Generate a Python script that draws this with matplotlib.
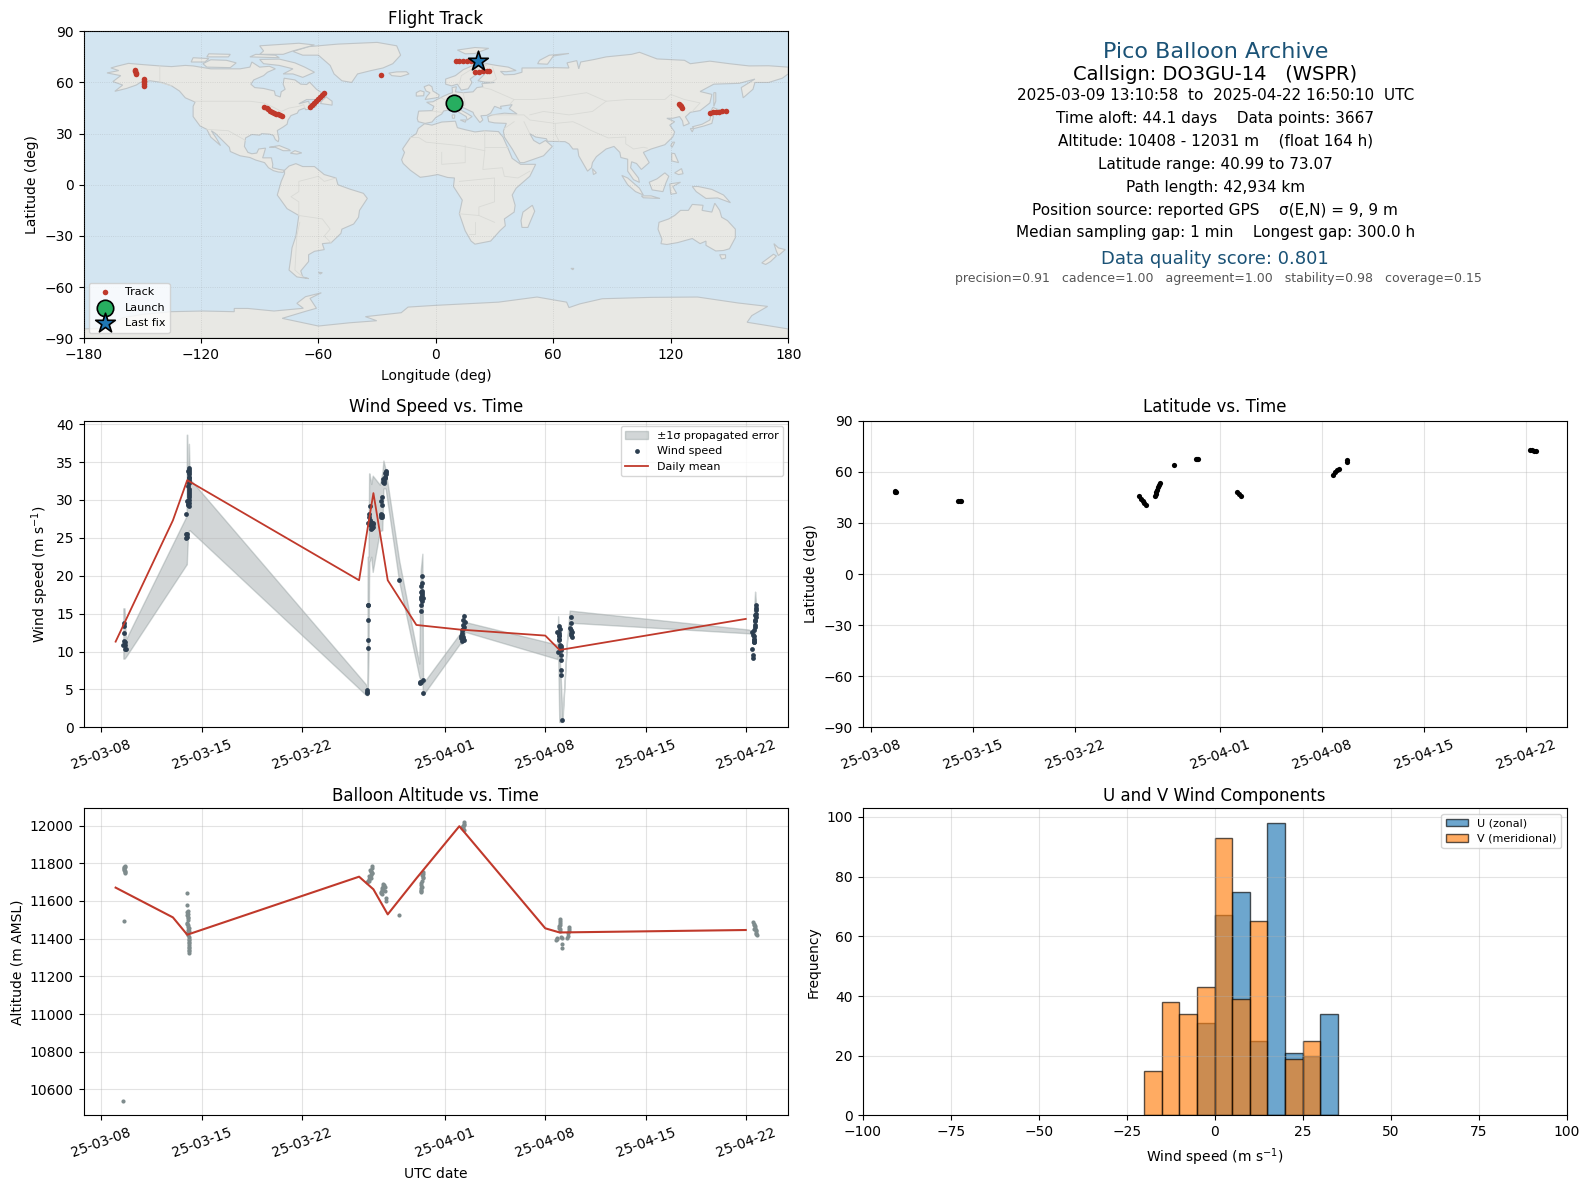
import numpy as np
import matplotlib
matplotlib.use("Agg")
import matplotlib.pyplot as plt
import matplotlib.dates as mdates
from matplotlib.patches import Polygon
from datetime import datetime

W, H = 1589, 1189

# land outlines (lon, lat), rough hand traced
north_america = [(-168,65.6),(-164,66.5),(-162,67),(-166,68.5),(-163,69.5),(-157,71.2),(-150,70.5),(-141,69.7),(-135,69.3),(-128,70),(-124,69.7),(-115,68),(-108,68),(-100,68),(-95,69),(-94,72),(-90,69),(-85,69.5),(-82,68),(-86,66),(-88,64),(-93,61.5),(-94.5,59),(-92.5,57),(-88,56.5),(-82.5,55),(-82,52.5),(-79.5,51.5),(-79,54.5),(-77,56),(-78,59),(-77.5,62.5),(-72,61.5),(-69,59),(-66,58.8),(-64.5,60.2),(-61,56),(-57,53),(-56,51.5),(-60,50),(-66,50),(-70,47.5),(-65,49),(-64.5,47),(-61,46),(-64,44.5),(-66.5,44),(-67,45),(-70,43.7),(-70.8,42),(-74,40.6),(-75.5,38),(-76,35.5),(-78,33.9),(-81,31.8),(-80.2,27),(-80.5,25.2),(-82,26.5),(-83,29),(-85,29.7),(-89,30),(-90,29.1),(-94,29.5),(-97.2,27.5),(-97.8,22.5),(-96,19),(-94,18.2),(-91.5,18.6),(-90.5,21),(-87,21.5),(-88,17.5),(-88.5,15.8),(-84,15.8),(-83.3,12),(-83.5,10),(-80,9),(-77.3,8.5),(-78,7.3),(-80.5,7.5),(-83,8.3),(-85.5,10),(-87.5,13),(-92,14.5),(-95,16),(-100,17),(-105,19.5),(-105.5,22),(-109,26),(-112.5,30),(-114.7,31.7),(-112,27),(-110,23),(-112,25),(-115,28),(-117,32.5),(-120.5,34.5),(-124,40),(-124,46),(-123,48.5),(-128,51),(-131,55),(-135,58),(-140,60),(-146,61),(-151,60),(-153,58.5),(-158,56.5),(-164,54.8),(-160,58.5),(-165,60.5),(-161,64)]
south_america = [(-77.3,8.5),(-75,11),(-71.5,12.4),(-68,10.7),(-62,10.7),(-57,6),(-51,4),(-50,0),(-44,-2.5),(-37,-5),(-35,-8),(-39,-15),(-39.5,-19),(-42,-23),(-48,-26),(-48.5,-28.5),(-53.5,-34),(-58,-34.5),(-57,-38),(-62,-39),(-65,-41),(-65,-45),(-69,-50.5),(-68,-54),(-65,-55),(-71,-54),(-75,-50),(-74,-42),(-73.5,-37),(-71.5,-30),(-70,-18),(-76,-14),(-81,-6),(-80,-2),(-79,2),(-77.3,6.5)]
eurasia = [(-9,37),(-9.5,38.8),(-8.8,43.2),(-1.8,43.5),(-1,46),(-4.7,48.4),(-1.5,48.7),(1.5,50.5),(4,52),(7,53.5),(8.5,54),(8.3,57),(10.5,57.5),(10,54.5),(14,54),(19,54.5),(21,57),(24,57.5),(23.5,59.3),(30,60),(25,60.2),(21.5,61),(25,65),(22,65.8),(17.5,62),(18.5,60),(16.5,56.3),(13,55.5),(11,59),(8,58),(5,59),(5,62),(10,64),(14,67.5),(19,70),(26,71),(31,70),(37,69),(41,67),(36,66.3),(33,66.5),(35,64.5),(40,64.7),(44,66),(44,68.5),(54,68.5),(60,68.7),(68,68.5),(67,71.5),(72,72.8),(73,68),(74,72),(81,73.5),(87,75),(100,76.5),(104,77.7),(113,73.8),(127,73),(130,71),(140,72.5),(150,71),(160,69.7),(170,69.8),(180,69),(180,65),(177,62.5),(170,60),(163,60),(162,56),(157,51),(156,57),(163,62),(155,59.5),(142,59),(135,54.7),(141,53),(140,48),(135,43.5),(130,42.5),(127.5,39.8),(129.5,36),(126.5,34.5),(126,37.5),(124.5,40),(121,39),(118,39),(122,37),(119.5,35),(122,31),(121,28),(117,23.5),(110,21),(106,19),(109,13),(105,9),(102.5,12.5),(100,13.5),(99.5,10),(103.5,4),(104,1.4),(101,3),(98,8),(98,15),(94.5,16),(94,19),(91,22.5),(87,21),(82,16.5),(80,13),(79.5,10),(77.5,8),(73,17),(72.5,21),(70,21),(68,24),(66,25.3),(57,25.5),(56.5,27),(51,28),(48,30),(50,26),(51.5,25),(53,24),(56,26),(59.5,22.5),(55,17),(45,13),(43,13),(39,21),(35,28),(34.5,31.5),(36,36),(30,36.3),(27,37),(26.5,40),(29,41),(35,42),(41.5,41.5),(37.5,44.7),(39,47),(33,46),(33.5,44.5),(30,46),(28,42),(26,40.7),(23,40.5),(24,38),(22.5,36.5),(19.5,41),(19,42.5),(13.5,45.5),(12.5,44),(16,41.8),(18.5,40),(16,38),(15.5,40),(11,43),(8.5,44.3),(4,43.3),(3,41.5),(0,39.5),(-2,36.8),(-5.5,36)]
africa = [(-5.8,35.8),(-2,35),(3,36.8),(10,37.3),(11,33.5),(15,32.3),(20,31),(25,31.7),(32,31.2),(34.3,28),(37,21),(39,15.5),(43.3,12),(51,12),(48,5),(41,-2),(39,-6),(40.5,-12),(40,-16),(35,-20),(35.5,-24),(32.7,-27),(28,-33),(20,-34.8),(18,-33),(15,-27),(12,-17),(13.5,-9),(9,-1),(9.5,4),(6,4.3),(1,6),(-4,5),(-8,4.4),(-13,8.5),(-16.7,12.5),(-17.5,14.7),(-16,19),(-17,21),(-13,27.7),(-10,30),(-9,33)]
australia = [(114,-22),(113.5,-26),(115.5,-32),(115,-34.5),(118,-35),(123.5,-33.9),(131,-31.5),(135,-34.5),(138,-33),(138,-35.5),(143,-38.8),(147,-38.5),(150,-37.5),(153,-31),(153,-26),(149,-21),(146,-19),(145,-15),(142.5,-10.8),(141,-16),(136,-15),(136.5,-12),(131,-11.5),(129,-15),(125,-15),(122,-18),(119,-20)]
antarctica = [(-180,-84.5),(-168,-84),(-160,-78),(-150,-76),(-135.5,-74.4),(-119,-74),(-103,-74.4),(-103,-72.5),(-96,-72.5),(-82.7,-74),(-67.7,-72.4),(-71,-69.5),(-66.6,-65.6),(-58.5,-63.3),(-64.3,-66.6),(-61,-72.4),(-66,-74),(-78.5,-78.3),(-60,-82.8),(-44,-80.9),(-30.2,-79.7),(-36,-77.3),(-17.7,-75),(-14.2,-71.7),(-0.4,-70.7),(32,-68.8),(51.7,-65.8),(66.8,-68.8),(68,-72),(73.6,-69.8),(85,-66.8),(110,-66),(133.7,-65.8),(154.5,-69.3),(169.5,-71.3),(161.4,-76.7),(159,-80.6),(180,-84.5),(180,-90),(-180,-90)]
islands = [
    [(-73,78.2),(-65,81),(-50,82.5),(-30,83.5),(-20,81.5),(-18,76),(-22,71),(-27,68.5),(-33,67),(-40,65),(-43,60),(-48,61),(-52,65),(-54,70),(-60,76),(-68,76)],
    [(-62,66),(-68,63),(-73,65),(-78,65),(-73,68),(-80,70),(-88,71),(-90,73.5),(-80,73.7),(-72,71.5),(-67,69)],
    [(-117,69),(-105,68.7),(-102,71.5),(-107,73),(-115,73.3),(-119,71)],
    [(-125,72),(-118,72),(-116,74),(-124,74.5)],
    [(-90,76.5),(-78,76.5),(-73,78.5),(-62,82),(-70,83),(-90,81.5),(-88,78.5)],
    [(-95,75),(-80,74.5),(-82,76),(-92,76.5)],
    [(-117,75),(-106,75),(-105,76.5),(-116,76.8)],
    [(-59,47.7),(-53,46.7),(-53,49),(-56,51.5),(-58,49.5)],
    [(-85,22),(-80,23),(-75,20.7),(-74.3,20),(-78,20),(-82,22)],
    [(-74.3,18.5),(-72,20),(-68.5,18.7),(-71,18)],
    [(-24,65.5),(-20,66.2),(-15,66.3),(-13.7,65),(-18,63.5),(-22.5,64)],
    [(-5.5,50),(1.3,51.2),(1.7,52.7),(-1.5,55),(-2,57.5),(-3.5,58.6),(-6,57.5),(-5,55),(-3,54),(-4.5,52)],
    [(-10,52),(-6.2,52.2),(-6,54.5),(-8,55.2),(-10,54)],
    [(11,79),(20,80.5),(27,80),(20,77),(15,76.8)],
    [(52,71),(57,70.7),(60,75.5),(68,77),(58,76),(53,73)],
    [(49.3,-12),(50.5,-15.5),(47,-25),(44,-25),(43.5,-21),(44.5,-16)],
    [(145,-41),(148,-41),(148,-43),(146,-43.5)],
    [(172.7,-34.5),(175,-37),(178.5,-38),(175,-41.5),(174,-39)],
    [(172.5,-40.7),(174,-41.7),(171,-45),(168.5,-46.7),(166.5,-45.8)],
    [(131,34),(136,35.5),(140,38),(140.5,41),(141.8,40),(141,36),(137,34.5),(132,33)],
    [(130,33),(131.7,33),(131,31)],
    [(140,42),(141.5,45.4),(145.5,43.5),(143,42)],
    [(142,46),(143,49),(143,54),(142,54),(142,50)],
    [(95,5.5),(98,4),(104,-2),(106,-6),(102,-4),(98,0)],
    [(105,-6.5),(110,-6.5),(114.5,-8),(106,-7.6)],
    [(109,1.5),(113,3.5),(117,7),(119,5),(117.5,1),(116,-4),(110.5,-3)],
    [(119.5,0.5),(125,1.5),(121,-1),(123,-5),(120,-5.5)],
    [(131,-1),(134,-1),(141,-2.7),(147,-6),(150.5,-10.5),(144,-7.7),(138,-8),(133,-4)],
    [(120.5,18.5),(122,18.3),(124,13),(120.5,14)],
    [(122,7),(125.5,9.5),(126.3,6.5),(124,6)],
    [(80,9.5),(82,7),(80.5,6)],
    [(121,25),(122,25),(120.7,22),(120,23)],
    [(12.5,38),(15.5,38),(15,36.7)],
    [(8.3,41),(9.7,41),(9.5,39),(8.5,39)],
    [(-60,-51.3),(-58,-51.5),(-59,-52.3)],
    [(69,-49),(70.5,-49),(70,-49.8)],
]
borders = [
    [(-123,49),(-95,49),(-88,48),(-83,45.5),(-79,43),(-75,45),(-70,46),(-67.5,47),(-67,45)],
    [(-141,69.7),(-141,60),(-135,58)],
    [(-117,32.5),(-106,31.7),(-97.2,26)],
    [(-13,27.7),(-8.7,27.7),(-5,25),(12,23),(25,20),(25,31.7)],
    [(25,22),(37,22)],
    [(25,20),(24,9),(34,10),(35,5),(42,4),(48,8)],
    [(3,19),(3,12),(15,13),(15,23)],
    [(12,2),(30,4),(30,-10),(22,-13),(22,-18),(12,-17)],
    [(20,-22),(20,-29),(17,-29)],
    [(30,-22),(22,-18)],
    [(-70,-18),(-58,-20),(-54,-26),(-57,-30),(-53.5,-34)],
    [(-70,-18),(-70,-10),(-74,-7),(-70,-4),(-70,2),(-60,5),(-57,2),(-51,4)],
    [(-69.5,-22),(-71,-30),(-72,-50),(-68,-54)],
    [(28,41),(45,41),(48,38),(61,36),(61,30),(63,25.5)],
    [(61,36),(70,37),(74,35),(79,32),(88,27.5),(97,28),(97,24),(101,21),(106,22),(108,21.5)],
    [(48,30),(45,37)],
    [(40,37),(35,33)],
    [(48,41),(55,43),(68,41),(80,43),(87,49),(98,50),(117,50),(120,53),(127,50),(135,48),(131,43)],
    [(40,50),(50,50),(60,51),(77,54),(87,49)],
    [(-2,43.3),(3,42.5)],
    [(2.5,51),(8,48),(7.5,44)],
    [(14,54),(15,47),(13.5,45.5)],
    [(24,57),(28,56),(40,50),(38,47.5)],
    [(28,60),(31,62),(29,69)],
    [(24,66),(20,69),(26,70)],
    [(20,69),(13,64),(12,59)],
]

# track points on the map
track_lon = [-153.5,-153.5,-153.3,-153.2,-149,-149,-149.2,-149.2,-149.3,-87.6,-86.5,-85.5,-84.5,-83.5,-82.5,-81.5,-80.5,-79.5,-78.5,-64.2,-63.2,-62.2,-61.2,-60,-59,-58,-57,-27.8,10.5,12,14,16,18,20,21.6,20,22,24,26,27,124.3,124.8,125.4,126,140.2,141.5,143,144.5,146,148.4]
track_lat = [67.3,66.5,65.8,65.2,62,61,60,59,58,45.8,45,44.2,43.5,42.9,42.2,41.8,41.3,40.9,40.5,45.4,46.5,47.8,49,50.2,51.5,52.6,53.6,64.2,72.8,72.7,72.6,72.5,72.4,72.3,72.4,66.4,66.3,66.5,66.9,67,47.4,46.7,46,45.2,42.3,42.4,42.7,42.9,43.1,43.3]
launch_lon, launch_lat = 9.3, 47.8
last_lon, last_lat = 21.6, 72.4

# wind speed, time in days after 2025-03-08
wind_t = [1.61,1.61,1.61,1.61,1.63,1.54,1.65,1.68,1.72,
          5.94,5.94,5.98,5.94,6.10,6.08,6.12,6.15,6.10,6.15,6.05,6.15,6.15,6.15,6.10,6.0,6.08,6.15,6.03,
          6.1,6.12,6.13,6.13,6.12,6.14,6.05,6.1,5.98,
          18.6,18.65,18.65,18.65,18.65,18.58,18.58,18.58,
          18.76,18.72,18.72,18.76,18.65,18.85,18.95,18.9,18.85,18.76,18.95,19.0,
          18.9,18.88,18.82,18.8,
          19.5,19.58,19.62,19.5,19.58,19.5,19.6,19.65,19.74,19.69,19.81,19.88,19.83,19.88,
          19.72,19.78,19.85,19.55,
          20.81,
          22.42,22.42,22.32,22.35,22.42,22.35,22.44,22.37,22.35,22.35,22.25,22.32,22.49,22.25,22.49,
          22.4,22.36,22.4,22.35,
          25.35,25.28,25.4,25.24,25.19,25.21,25.12,25.28,25.17,25.31,
          25.3,25.25,25.2,25.15,25.25,
          31.96,31.85,31.99,31.94,31.99,32.08,31.87,32.13,32.13,32.13,32.13,32.13,32.2,
          32.0,32.05,32.1,32.0,31.95,31.98,
          32.82,32.82,32.75,32.85,32.78,32.85,32.8,32.82,
          45.42,45.53,45.58,45.58,45.47,45.53,45.53,45.65,45.65,45.7,45.7,45.7,45.65,
          45.7,45.68,45.66,45.62,45.6,45.55,45.58,45.6]
wind_v = [13.7,13.4,12.4,11.4,11.2,10.9,10.9,10.3,10.3,
          25.0,25.45,25.45,28.1,34.15,33.85,33.4,33.05,32.6,32.2,31.8,31.5,30.9,30.4,30,29.8,29.5,29.2,29.3,
          34,33.7,32.9,32.4,31.2,30.6,29.9,29.6,25.1,
          16.2,16.2,14.1,11.5,10.4,4.9,4.7,4.5,
          29.2,28.2,27.8,27.3,26.9,26.8,27,26.5,26.1,26.7,26.4,26.8,
          26.6,26.3,26.9,27.1,
          29.8,29.3,30.4,28.2,28,27.8,27.7,32.7,32.2,32.4,33,33.85,33.5,33.4,
          32.5,32.9,33.7,28,
          19.4,
          19.9,19.1,18.7,17.9,17.7,17.2,17,16.7,16.2,15.3,5.8,6,6.3,6,4.5,
          18,17.5,17.1,16.9,
          14.7,14.15,13.9,13.5,12.8,12.4,12,11.7,11.4,11.5,
          13.2,13,12.2,11.8,11.9,
          13.3,12.6,12.4,11.7,11.5,10.7,9.9,10.4,9.5,8.9,7.5,6.9,0.9,
          10.6,10.9,10.2,13,12.2,12,
          14.6,13.7,13.05,12.6,12.2,11.9,12.8,12.4,
          12.6,12.2,11.7,11.2,10.3,9.6,9.1,14.15,14.8,15.7,16.1,15.5,13.5,
          15,14.5,14,13.2,12.8,12,11.5,11.3]

# outline of the propagated error band
band_t = [1.54,1.62,1.72,5.96,5.97,6.0,6.05,6.12,6.17,18.46,18.58,18.6,18.66,18.7,18.72,18.85,18.95,19.45,19.62,19.7,19.85,20.8,22.2,22.3,22.42,22.47,25.05,25.15,25.3,25.4,31.85,31.9,31.98,32.2,32.52,32.7,45.2,45.5,45.65,45.7]
band_hi = [15.7,15.7,11.6,27.9,38.6,38.6,33,37.4,32.8,5.7,5.2,22.5,22.5,33.5,33.5,32.1,33.2,32,33.5,35.2,34,22,8.4,20.7,22.9,5.8,12.4,13,15,13.9,10.9,14.65,10.6,1.4,11.5,15.4,12.9,12.6,17.9,16.8]
band_lo = [9.06,9.06,9.3,21.5,21.5,23,25,26,26,4.3,4.2,4.3,9.5,20,21.8,22.5,20.5,25.9,26,31.5,31.5,19.2,6.7,6.2,6,4.25,11.05,11,11.5,12.6,9,9.7,0.7,0.7,11.4,13.8,12.4,12.3,12.4,15.4]

# daily means
mean_t = [1,5,6,18,19,20,22,25,31,32,45]
mean_wind = [11.3,27.3,32.6,19.4,30.9,19.4,13.5,12.9,12.1,10.2,14.3]
mean_alt = [11671,11513,11421,11729,11662,11529,11720,11997,11455,11433,11446]

# altitude
alt_t = [1.63,1.68,1.58,1.61,1.68,1.63,1.61,1.54,1.6,1.66,1.6,
         6.0,6.0,6.05,5.96,6.08,5.98,6.03,6.08,6.0,6.15,6.1,6.15,6.1,6.15,
         6.0,6.05,6.02,6.08,6.0,6.05,6.1,6.12,6.08,6.1,6.12,6.12,6.15,6.12,6.13,
         18.92,18.76,18.88,18.72,18.83,18.67,18.53,18.9,18.85,18.8,18.75,18.7,18.6,18.8,18.9,
         19.69,19.81,19.58,19.5,19.81,19.58,19.85,19.85,20.81,19.65,19.7,19.6,19.55,19.7,19.75,
         22.49,22.42,22.49,22.35,22.37,22.3,22.3,22.45,22.45,22.4,22.35,22.33,22.3,
         25.3,25.25,25.35,25.18,25.3,25.28,25.32,25.22,
         32.0,32.0,31.95,32.05,31.8,31.75,32.15,32.15,32.15,32.0,32.02,31.98,32.02,31.85,32.1,
         32.65,32.65,32.6,32.55,32.65,32.62,
         45.5,45.58,45.65,45.72,45.75,45.55,45.62,45.68,45.7,45.6,45.72]
alt_v = [11786,11779,11774,11765,11756,11747,11492,10536,11770,11760,11782,
         11641,11577,11549,11526,11508,11485,11464,11446,11428,11393,11375,11358,11340,11326,
         11540,11530,11515,11500,11480,11470,11455,11440,11420,11410,11400,11385,11365,11350,11335,
         11786,11765,11747,11733,11720,11708,11699,11775,11755,11740,11725,11715,11705,11760,11750,
         11688,11676,11667,11650,11653,11637,11614,11600,11524,11680,11670,11660,11645,11660,11685,
         11756,11738,11720,11694,11676,11658,11646,11745,11730,11705,11685,11668,11652,
         12019,11998,11975,11990,12010,11985,12005,11995,
         11502,11475,11458,11440,11405,11393,11405,11370,11353,11495,11485,11465,11450,11400,11410,
         11463,11440,11414,11405,11450,11428,
         11488,11475,11458,11432,11418,11480,11465,11445,11425,11450,11440]

# latitude vs time
lat_t = [1.6,1.65,1.7,5.95,6.07,6.2,18.44,18.55,18.65,18.78,18.9,19.5,19.55,19.6,19.65,19.7,19.77,19.84,20.78,22.3,22.37,22.44,25.14,25.28,25.42,31.78,31.9,32.05,32.15,32.68,32.72,45.27,45.4,45.55,45.7]
lat_v = [48.9,48.4,47.9,42.9,42.9,42.9,45.7,44.3,43,41.8,40.8,46,47.2,48.4,49.6,50.8,52,53.3,64.1,67.3,67.3,67.3,48,46.8,45.7,58.4,59.7,61,61.8,66,67.2,72.9,72.7,72.5,72.4]

# histogram counts, 5 m/s bins
bin_left = [-20,-15,-10,-5,0,5,10,15,20,25,30]
u_counts = [0,0,0,31,67,75,25,98,21,20,34]
v_counts = [15,38,34,43,93,39,65,0,19,25,0]

RED = "#c0392b"
NAVY = "#2c3e50"
GREY = "#7f8c8d"
BLUE = "#1a5276"

date_ticks = mdates.DayLocator(bymonthday=[1, 8, 15, 22])
date_fmt = mdates.DateFormatter("%y-%m-%d")
day0 = mdates.date2num(datetime(2025, 3, 8))


def to_date(days):
    return day0 + np.array(days, dtype=float)


def add_ax(left, top, right, bottom):
    return fig.add_axes([left / W, 1 - bottom / H, (right - left) / W, (bottom - top) / H])


def date_axis(ax, t0, t1):
    ax.set_xlim(to_date(t0), to_date(t1))
    ax.xaxis.set_major_locator(date_ticks)
    ax.xaxis.set_major_formatter(date_fmt)
    ax.tick_params(axis="x", labelrotation=20)


fig = plt.figure(figsize=(W / 100, H / 100), dpi=100)

# ---- map
ax_map = add_ax(83.5, 31.3, 788.2, 338.3)
ax_map.set_facecolor("#d3e5f1")
land = [north_america, south_america, eurasia, africa, australia, antarctica] + islands
for shape in land:
    ax_map.add_patch(Polygon(shape, closed=True, facecolor="#e8e8e4", edgecolor="#bfc5c8", linewidth=0.8, zorder=1))
for line in borders:
    xs, ys = zip(*line)
    ax_map.plot(xs, ys, color="#d9dad6", linewidth=0.6, zorder=1.5)
ax_map.scatter(track_lon, track_lat, s=16, color=RED, label="Track", zorder=3, linewidths=0)
ax_map.scatter([launch_lon], [launch_lat], s=140, color="#27ae60", edgecolors="black", linewidths=1.2, label="Launch", zorder=4)
ax_map.scatter([last_lon], [last_lat], s=220, marker="*", color="#1f77b4", edgecolors="black", linewidths=1.2, label="Last fix", zorder=5)
ax_map.set_xlim(-180, 180)
ax_map.set_ylim(-90, 90)
ax_map.set_xticks(np.arange(-180, 181, 60))
ax_map.set_yticks(np.arange(-90, 91, 30))
ax_map.grid(True, color="gray", alpha=0.25, linewidth=0.6, linestyle=":", zorder=2)
ax_map.set_axisbelow(False)
ax_map.set_xlabel("Longitude (deg)", labelpad=5)
ax_map.set_ylabel("Latitude (deg)")
ax_map.set_title("Flight Track", fontsize=12, pad=5)
ax_map.legend(loc="lower left", fontsize=8)

# ---- summary text
cx = 1215.3
info = [
    (52.5, 0, "Pico Balloon Archive", 16, BLUE),
    (74, 0, "Callsign: DO3GU-14   (WSPR)", 14, "black"),
    (95.5, 0, "2025-03-09 13:10:58  to  2025-04-22 16:50:10  UTC", 11, "black"),
    (118.5, 0, "Time aloft: 44.1 days    Data points: 3667", 11, "black"),
    (141, 0, "Altitude: 10408 - 12031 m    (float 164 h)", 11, "black"),
    (164.5, 0, "Latitude range: 40.99 to 73.07", 11, "black"),
    (187.5, 0, "Path length: 42,934 km", 11, "black"),
    (210, 0, "Position source: reported GPS    σ(E,N) = 9, 9 m", 11, "black"),
    (233, 0, "Median sampling gap: 1 min    Longest gap: 300.0 h", 11, "black"),
    (259, 0, "Data quality score: 0.801", 13, BLUE),
    (278.5, 3, "precision=0.91   cadence=1.00   agreement=1.00   stability=0.98   coverage=0.15", 9, "#555555"),
]
for ypx, dx, txt, size, col in info:
    fig.text((cx + dx) / W, 1 - ypx / H, txt, fontsize=size, color=col, ha="center", va="center")

# ---- wind speed
ax_wind = add_ax(83.5, 420.7, 788.3, 727.3)
ax_wind.fill_between(to_date(band_t), band_lo, band_hi, color=GREY, alpha=0.35, label="±1σ propagated error")
ax_wind.scatter(to_date(wind_t), wind_v, s=12, color=NAVY, label="Wind speed", zorder=3, linewidths=0)
ax_wind.plot(to_date(mean_t), mean_wind, color=RED, linewidth=1.3, label="Daily mean", zorder=4)
date_axis(ax_wind, -1.243, 47.97)
ax_wind.set_ylim(0, 40.45)
ax_wind.set_ylabel("Wind speed (m s$^{-1}$)")
ax_wind.set_title("Wind Speed vs. Time", fontsize=12)
ax_wind.grid(True, alpha=0.35)
ax_wind.legend(loc="upper right", fontsize=8)

# ---- latitude
ax_lat = add_ax(862.7, 420.7, 1566.5, 727.3)
ax_lat.scatter(to_date(lat_t), lat_v, s=14, color="black", linewidths=0, zorder=3)
date_axis(ax_lat, -0.59, 47.8)
ax_lat.set_ylim(-90, 90)
ax_lat.set_yticks(np.arange(-90, 91, 30))
ax_lat.set_ylabel("Latitude (deg)")
ax_lat.set_title("Latitude vs. Time", fontsize=12)
ax_lat.grid(True, alpha=0.35)

# ---- altitude
ax_alt = add_ax(83.5, 808.3, 788.3, 1115.4)
ax_alt.scatter(to_date(alt_t), alt_v, s=9, color=GREY, linewidths=0, zorder=3)
ax_alt.plot(to_date(mean_t), mean_alt, color=RED, linewidth=1.5, zorder=4)
date_axis(ax_alt, -1.243, 47.97)
ax_alt.set_ylim(10462, 12092)
ax_alt.set_yticks(np.arange(10600, 12001, 200))
ax_alt.set_xlabel("UTC date", labelpad=5)
ax_alt.set_ylabel("Altitude (m AMSL)")
ax_alt.set_title("Balloon Altitude vs. Time", fontsize=12, pad=5)
ax_alt.grid(True, alpha=0.35)

# ---- U / V histogram
ax_hist = add_ax(862.7, 808.3, 1566.5, 1115.4)
ax_hist.bar(bin_left, u_counts, width=5, align="edge", color="C0", alpha=0.65, edgecolor="black", label="U (zonal)")
ax_hist.bar(bin_left, v_counts, width=5, align="edge", color="C1", alpha=0.65, edgecolor="black", label="V (meridional)")
ax_hist.set_xlim(-100, 100)
ax_hist.set_ylim(0, 102.9)
ax_hist.set_xticks(np.arange(-100, 101, 25))
ax_hist.set_xlabel("Wind speed (m s$^{-1}$)", labelpad=5)
ax_hist.set_ylabel("Frequency")
ax_hist.set_title("U and V Wind Components", fontsize=12, pad=5)
ax_hist.grid(True, alpha=0.35)
ax_hist.legend(loc="upper right", fontsize=8)

fig.savefig("out.png", dpi=100)
